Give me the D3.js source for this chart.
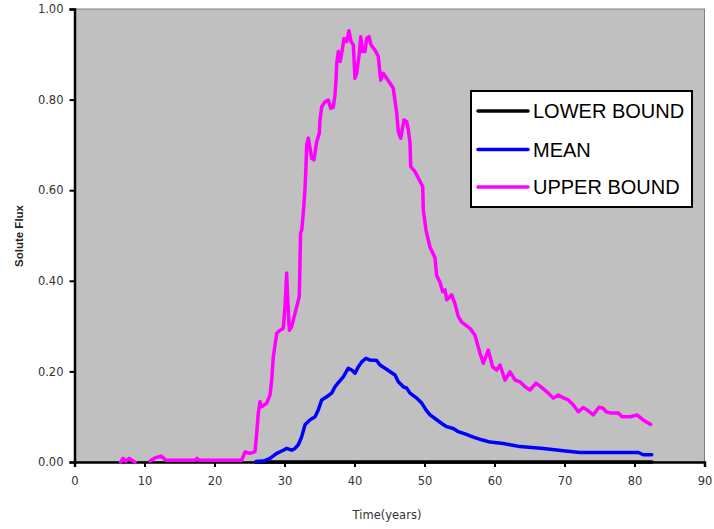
<!DOCTYPE html>
<html>
<head>
<meta charset="utf-8">
<script src="https://cdn.jsdelivr.net/npm/d3@7/dist/d3.min.js"></script>
<style>
  html, body { margin: 0; padding: 0; background: #ffffff; }
  svg { display: block; }
</style>
</head>
<body>
<svg id="chart" width="714" height="529"></svg>
<script>
// ---- Data ----
const seriesNames = ["LOWER BOUND", "MEAN", "UPPER BOUND"];
const seriesColors = ["#000000", "#0000FF", "#FF00FF"];
const xTicks = [0, 10, 20, 30, 40, 50, 60, 70, 80, 90];
const yTicks = [0, 0.2, 0.4, 0.6, 0.8, 1.0];

// Lower bound: zero throughout (lies on the axis)
const lowerTime = [25.9, 40, 60, 82.5];
const lowerFlux = [0, 0, 0, 0];

const meanTime = [25.93, 27.21, 27.93, 28.89, 29.83, 30.31, 31.03, 31.5, 31.97, 32.46, 32.93, 33.64, 34.36, 34.83, 35.31, 36.03, 36.74, 37.21, 37.69, 38.4, 39.11, 39.6, 40.07, 40.54, 41.03, 41.64, 42.21, 43.17, 43.64, 44.36, 45.31, 45.79, 46.26, 46.97, 47.46, 47.93, 48.89, 49.6, 50.21, 50.79, 51.5, 52.46, 53.17, 54.11, 54.83, 55.79, 56.97, 58.17, 59.36, 61.26, 62.21, 63.64, 66.97, 69.83, 72.21, 80.54, 81.26, 82.46];
const meanFlux = [0.001, 0.003, 0.008, 0.019, 0.026, 0.03, 0.026, 0.03, 0.038, 0.056, 0.082, 0.093, 0.1, 0.115, 0.137, 0.144, 0.152, 0.166, 0.175, 0.188, 0.207, 0.203, 0.196, 0.21, 0.221, 0.229, 0.225, 0.224, 0.214, 0.207, 0.197, 0.192, 0.177, 0.166, 0.163, 0.152, 0.141, 0.13, 0.115, 0.104, 0.096, 0.085, 0.078, 0.074, 0.067, 0.062, 0.055, 0.049, 0.044, 0.041, 0.038, 0.034, 0.03, 0.025, 0.021, 0.021, 0.016, 0.016];

// Upper bound (null = no data / gap)
const upperTime = [6.6, 6.93, 7.36, 7.83, 8.21, 8.64, 9.7, 10.79, 11.5, 12.36, 13.07, 17.21, 17.5, 17.79, 23.89, 24.36, 25.07, 25.79, 26.03, 26.26, 26.5, 26.74, 27.46, 27.93, 28.17, 28.4, 28.89, 29.36, 29.83, 30.07, 30.31, 30.4, 30.69, 31.03, 31.5, 32.11, 32.21, 32.29, 32.46, 32.69, 32.93, 33.07, 33.17, 33.4, 33.89, 34.21, 34.6, 34.97, 35.07, 35.31, 35.79, 36.26, 36.6, 36.97, 37.21, 37.36, 37.46, 37.69, 37.93, 38.17, 38.5, 38.89, 39.21, 39.5, 39.83, 40.07, 40.31, 40.69, 40.89, 41.17, 41.5, 41.74, 42.07, 42.36, 42.93, 43.4, 43.74, 44.11, 44.6, 45.07, 45.54, 46.03, 46.26, 46.6, 47.07, 47.46, 47.69, 47.93, 48.03, 48.64, 49.11, 49.74, 49.83, 50.21, 50.79, 51.5, 51.74, 52.21, 52.6, 52.93, 53.17, 53.89, 54.36, 54.83, 55.31, 56.5, 57.21, 57.93, 58.4, 59.11, 59.74, 60.31, 60.79, 61.5, 62.21, 62.93, 63.64, 64.36, 65.07, 65.93, 66.64, 67.69, 68.4, 69.11, 69.93, 70.54, 71.26, 71.97, 72.69, 73.4, 74.11, 74.93, 75.5, 75.93, 76.64, 77.69, 78.21, 79.36, 80.36, 81.21, 82.31];
const upperFlux = [0.0, 0.008, 0.002, 0.008, 0.004, 0.0, null, 0.002, 0.009, 0.013, 0.004, 0.004, 0.008, 0.004, 0.004, 0.022, 0.019, 0.023, 0.064, 0.108, 0.133, 0.122, 0.13, 0.148, 0.181, 0.232, 0.284, 0.291, 0.295, 0.343, 0.417, 0.38, 0.291, 0.299, 0.328, 0.365, 0.439, 0.505, 0.512, 0.55, 0.604, 0.652, 0.70, 0.715, 0.67, 0.667, 0.707, 0.726, 0.755, 0.784, 0.795, 0.799, 0.781, 0.783, 0.81, 0.843, 0.88, 0.906, 0.884, 0.902, 0.935, 0.928, 0.952, 0.928, 0.921, 0.847, 0.858, 0.902, 0.939, 0.906, 0.906, 0.935, 0.939, 0.921, 0.909, 0.895, 0.843, 0.858, 0.847, 0.836, 0.825, 0.77, 0.729, 0.715, 0.755, 0.751, 0.733, 0.704, 0.652, 0.641, 0.627, 0.608, 0.556, 0.512, 0.474, 0.451, 0.411, 0.397, 0.376, 0.38, 0.358, 0.369, 0.349, 0.321, 0.309, 0.295, 0.28, 0.24, 0.218, 0.247, 0.21, 0.203, 0.214, 0.181, 0.199, 0.181, 0.177, 0.166, 0.159, 0.174, 0.166, 0.152, 0.141, 0.148, 0.141, 0.137, 0.126, 0.111, 0.12, 0.113, 0.104, 0.121, 0.119, 0.111, 0.108, 0.108, 0.1, 0.1, 0.104, 0.093, 0.083];

// ---- Layout ----
const svg = d3.select("#chart");
const plot = { left: 74.5, right: 704.5, top: 9, bottom: 462 };

const x = d3.scaleLinear().domain([0, 90]).range([plot.left, plot.right]);
const y = d3.scaleLinear().domain([0, 1]).range([plot.bottom, plot.top]);

// plot background
svg.append("rect")
  .attr("x", plot.left).attr("y", plot.top)
  .attr("width", plot.right - plot.left).attr("height", plot.bottom - plot.top)
  .attr("fill", "#C0C0C0")
  .attr("stroke", "#808080").attr("stroke-width", 1);

// axes
const yAxis = svg.append("g")
  .attr("transform", `translate(${plot.left},0)`)
  .call(d3.axisLeft(y).tickValues(yTicks).tickFormat(d3.format(".2f")).tickSize(5).tickPadding(6));
const xAxis = svg.append("g")
  .attr("transform", `translate(0,${plot.bottom})`)
  .call(d3.axisBottom(x).tickValues(xTicks).tickFormat(d3.format("d")).tickSize(5).tickPadding(10));

[xAxis, yAxis].forEach(g => {
  g.select(".domain").attr("stroke", "#000").attr("stroke-width", 2.5);
  g.selectAll(".tick line").attr("stroke", "#000").attr("stroke-width", 2);
  g.selectAll(".tick text")
    .attr("fill", "#333")
    .style("font-family", "'DejaVu Sans', Verdana, sans-serif")
    .style("font-size", "11.5px");
});

// series
const toPoints = (ts, vs) => ts.map((t, i) => ({ t, v: vs[i] }));
const seriesData = [
  toPoints(lowerTime, lowerFlux),
  toPoints(meanTime, meanFlux),
  toPoints(upperTime, upperFlux)
];
const line = d3.line()
  .defined(d => d.v !== null)
  .x(d => x(d.t))
  .y(d => y(d.v));

svg.append("g").selectAll("path")
  .data(seriesData)
  .join("path")
  .attr("d", line)
  .attr("fill", "none")
  .attr("stroke", (d, i) => seriesColors[i])
  .attr("stroke-width", 3.5)
  .attr("stroke-linejoin", "round")
  .attr("stroke-linecap", "round");

// axis titles
svg.append("text")
  .attr("x", 387).attr("y", 519)
  .attr("text-anchor", "middle")
  .attr("fill", "#333")
  .style("font-family", "'DejaVu Sans', Verdana, sans-serif")
  .style("font-size", "11.5px")
  .text("Time(years)");

svg.append("text")
  .attr("transform", "translate(23,236) rotate(-90)")
  .attr("text-anchor", "middle")
  .attr("fill", "#222")
  .style("font-family", "'Liberation Sans', Arial, sans-serif")
  .style("font-weight", "bold")
  .style("font-size", "11.5px")
  .text("Solute Flux");

// legend
const legend = svg.append("g");
legend.append("rect")
  .attr("x", 471).attr("y", 91)
  .attr("width", 221).attr("height", 116)
  .attr("fill", "#fff").attr("stroke", "#000").attr("stroke-width", 2);
const legY = [111, 149.5, 187];
const items = legend.selectAll("g.item")
  .data(seriesNames)
  .join("g").attr("class", "item")
  .attr("transform", (d, i) => `translate(0,${legY[i]})`);
items.append("line")
  .attr("x1", 478).attr("x2", 528)
  .attr("stroke", (d, i) => seriesColors[i])
  .attr("stroke-width", 3.5).attr("stroke-linecap", "round");
items.append("text")
  .attr("x", 533).attr("y", 7)
  .attr("fill", "#000")
  .style("font-family", "'Liberation Sans', Arial, sans-serif")
  .style("font-size", "20px")
  .text(d => d);
</script>
</body>
</html>
